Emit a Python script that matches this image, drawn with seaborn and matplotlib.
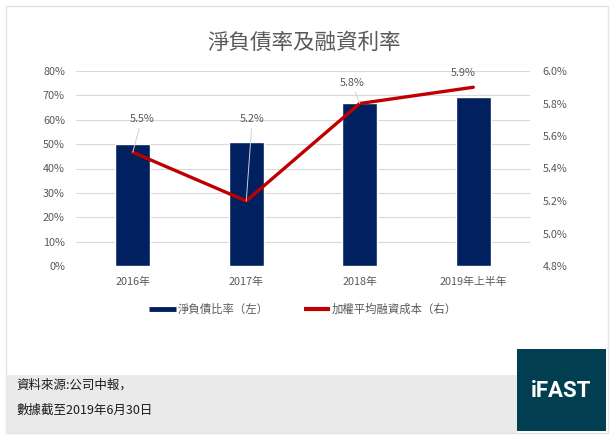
import numpy as np
import pandas as pd
import matplotlib
matplotlib.use("Agg")
import matplotlib.pyplot as plt
from matplotlib.patches import Rectangle
from matplotlib.lines import Line2D
import seaborn as sns

# ---- data ----
categories = ["2016年", "2017年", "2018年", "2019年上半年"]
net_debt_ratio = [0.50, 0.51, 0.667, 0.693]      # left axis (fraction)
financing_cost = [5.5, 5.2, 5.8, 5.9]            # right axis (%)
left_ticks = [0.0, 0.1, 0.2, 0.3, 0.4, 0.5, 0.6, 0.7, 0.8]
right_ticks = [4.8, 5.0, 5.2, 5.4, 5.6, 5.8, 6.0]
title = "淨負債率及融資利率"
legend_labels = ["淨負債比率（左）", "加權平均融資成本（右）"]
source_lines = ["資料來源:公司中報，", "數據截至2019年6月30日"]

sns.set_style("white")
plt.rcParams["font.family"] = ["Noto Sans CJK TC", "DejaVu Sans"]

W, H = 613, 437
fig = plt.figure(figsize=(W / 100, H / 100), dpi=100)
fig.patch.set_facecolor("white")

def fx(x):
    return x / W

def fy(y):
    return 1 - y / H

# outer frame, footer band and logo box
fig.add_artist(Rectangle((fx(6), fy(433)), fx(608) - fx(6), fy(6) - fy(433),
                         transform=fig.transFigure, facecolor="white",
                         edgecolor="#E3E3E3", lw=1, zorder=0))
fig.add_artist(Rectangle((fx(6), fy(433)), fx(517) - fx(6), fy(375) - fy(433),
                         transform=fig.transFigure, facecolor="#EAEAEA",
                         edgecolor="none", zorder=1))
fig.add_artist(Rectangle((fx(517), fy(431)), fx(606) - fx(517), fy(349) - fy(431),
                         transform=fig.transFigure, facecolor="#023E52",
                         edgecolor="none", zorder=1))

ax = fig.add_axes([fx(76), fy(266), fx(530) - fx(76), fy(71) - fy(266)])
ax.set_facecolor("none")

df = pd.DataFrame({"cat": categories, "ratio": net_debt_ratio, "cost": financing_cost})

sns.barplot(data=df, x="cat", y="ratio", color="#002060", width=0.31,
            saturation=1, ax=ax, zorder=2)
ax.set_ylim(0, 0.8)
ax.set_yticks(left_ticks)
ax.set_yticklabels([f"{t:.0%}" for t in left_ticks])
ax.set_xlabel("")
ax.set_ylabel("")
ax.grid(axis="y", color="#D9D9D9", lw=0.8, zorder=0)
ax.set_axisbelow(True)
for s in ax.spines.values():
    s.set_visible(False)
ax.tick_params(axis="y", length=0, pad=8, labelsize=7.8, labelcolor="#595959")
ax.tick_params(axis="x", length=0, pad=8, labelsize=7.8, labelcolor="#595959")

ax2 = ax.twinx()
sns.lineplot(x=np.arange(len(categories)), y=financing_cost, ax=ax2,
             color="#C00000", lw=2.4, legend=False, zorder=3)
ax2.set_ylim(4.8, 6.0)
ax2.set_yticks(right_ticks)
ax2.set_yticklabels([f"{t:.1f}%" for t in right_ticks])
ax2.set_ylabel("")
for s in ax2.spines.values():
    s.set_visible(False)
ax2.tick_params(axis="y", length=0, pad=9, labelsize=7.8, labelcolor="#595959")
ax.set_xlim(-0.5, 3.5)

# data labels
offsets = [(9, 33, True), (6, 82, True), (-8, 21, True), (-10, 14, False)]
for i, (v, (dx, dy, lead)) in enumerate(zip(financing_cost, offsets)):
    kw = {}
    if lead:
        kw["arrowprops"] = dict(arrowstyle="-", color="#D0D0D0", lw=0.7,
                                shrinkA=1, shrinkB=0)
    ax2.annotate(f"{v:.1f}%", xy=(i, v), xytext=(dx, dy),
                 textcoords="offset pixels", ha="center", va="center",
                 fontsize=7.8, color="#595959", zorder=4, **kw)

# title
fig.text(fx(304), fy(43), title, ha="center", va="center",
         fontsize=15.5, color="#595959")

# legend
handles = [Line2D([0], [0], color="#002060", lw=3.5, solid_capstyle="butt"),
           Line2D([0], [0], color="#C00000", lw=3, solid_capstyle="butt")]
fig.legend(handles, legend_labels, loc="center", bbox_to_anchor=(fx(303), fy(309)),
           ncol=2, frameon=False, fontsize=8.2, handlelength=2.3,
           handletextpad=0.15, columnspacing=3.1, labelcolor="#595959")

# footer
footer_family = ["Noto Sans CJK SC", "DejaVu Sans"]
fig.text(fx(16), fy(385), source_lines[0], ha="left", va="center",
         fontsize=9, color="#1A1A1A", family=footer_family)
fig.text(fx(16), fy(410), source_lines[1], ha="left", va="center",
         fontsize=9, color="#1A1A1A", family=footer_family)
fig.text(fx(561), fy(391), "iFAST", ha="center", va="center", fontsize=16,
         fontweight="bold", color="white", family=["Roboto", "DejaVu Sans"])

fig.savefig("out.png", dpi=100)
